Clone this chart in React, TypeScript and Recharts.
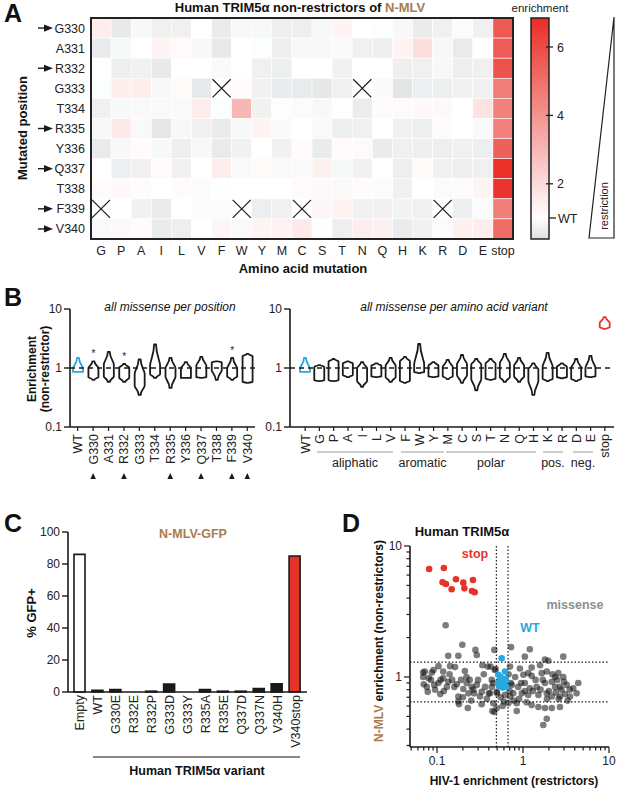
import React from "react";
import {
  ScatterChart,
  Scatter,
  BarChart,
  Bar,
  Cell,
  XAxis,
  YAxis,
  ReferenceLine,
} from "recharts";

const FONT = '"Liberation Sans", Arial, Helvetica, sans-serif';
const RED = "#e6332a";
const BLUE = "#29a8e0";
const BROWN = "#a87c4f";
const INK = "#1a1a1a";

// ---------- panel A: heatmap ----------
const aaColumns = ["G", "P", "A", "I", "L", "V", "F", "W", "Y", "M", "C", "S", "T", "N", "Q", "H", "K", "R", "D", "E", "stop"];
const positions = ["G330", "A331", "R332", "G333", "T334", "R335", "Y336", "Q337", "T338", "F339", "V340"];
const arrowPositions = ["G330", "R332", "R335", "Q337", "F339", "V340"];

// null = not measured (X)
const rowG330 = [1.5, 0.55, 0.85, 0.7, 0.7, 1.0, 0.6, 0.85, 0.85, 0.65, 0.65, 0.85, 1.3, 1.0, 0.95, 0.85, 0.6, 0.7, 1.15, 0.7, 5.6];
const rowA331 = [0.58, 0.85, 1.0, 1.3, 1.15, 0.85, 0.55, 1.0, 0.95, 0.65, 0.85, 0.85, 0.9, 0.7, 0.68, 1.3, 1.9, 0.85, 0.58, 1.0, 5.5];
const rowR332 = [1.0, 0.65, 0.72, 0.55, 1.0, 1.0, 0.9, 1.0, 0.7, 0.65, 1.0, 1.0, 0.72, 1.0, 1.0, 0.68, 0.7, 0.85, 0.65, 0.7, 5.8];
const rowG333 = [0.95, 1.45, 1.5, 0.85, 1.15, 0.55, null, 1.1, 0.72, 0.6, 0.58, 0.52, 0.7, null, 0.9, 0.48, 0.65, 0.65, 0.72, 0.72, 4.6];
const rowT334 = [0.7, 0.85, 0.88, 0.88, 0.88, 1.5, 0.95, 3.0, 0.72, 0.95, 1.15, 0.85, 1.0, 0.62, 1.15, 1.15, 1.2, 1.2, 1.0, 1.8, 4.5];
const rowR335 = [0.85, 1.6, 0.88, 0.52, 0.85, 0.72, 0.6, 0.85, 1.3, 0.9, 1.0, 0.88, 0.65, 0.7, 1.0, 0.72, 0.65, 1.12, 1.0, 0.88, 4.5];
const rowY336 = [0.58, 0.85, 1.12, 0.85, 0.65, 0.85, 0.58, 0.72, 1.0, 0.72, 1.12, 0.6, 1.12, 1.15, 0.6, 0.7, 0.65, 0.65, 0.7, 0.65, 5.4];
const rowQ337 = [1.0, 0.65, 0.7, 1.15, 0.72, 1.0, 1.5, 0.88, 1.15, 0.88, 0.88, 1.4, 0.85, 0.72, 1.0, 0.65, 1.12, 0.72, 0.65, 0.7, 6.7];
const rowT338 = [1.12, 1.2, 1.12, 1.0, 1.12, 0.92, 0.98, 1.0, 1.0, 1.0, 1.15, 1.2, 0.88, 1.12, 0.92, 0.7, 1.0, 0.92, 1.1, 1.3, 6.6];
const rowF339 = [null, 1.0, 0.72, 0.58, 1.0, 0.92, 0.92, null, 0.65, 0.7, null, 1.25, 1.35, 0.72, 0.72, 0.75, 0.7, null, 0.65, 0.92, 4.6];
const rowV340 = [0.88, 1.18, 1.12, 0.6, 0.65, 1.0, 1.25, 0.88, 1.3, 1.35, 1.6, 1.05, 0.65, 1.5, 1.4, 0.6, 0.72, 0.92, 1.4, 1.5, 5.1];
const heatRows = [rowG330, rowA331, rowR332, rowG333, rowT334, rowR335, rowY336, rowQ337, rowT338, rowF339, rowV340];

const heatCells = heatRows.flatMap((row, r) => row.map((v, c) => ({ x: c, y: r, v })));

const HEAT_W = 617;
const HEAT_H = 280;
const HEAT_M = { top: 18, right: 104, bottom: 21, left: 0 };
const HEAT_YAXIS = 91;
const CELL_W = (HEAT_W - HEAT_M.right - HEAT_M.left - HEAT_YAXIS) / aaColumns.length;
const CELL_H = (HEAT_H - HEAT_M.top - HEAT_M.bottom - 20) / positions.length;

const V_MAX = 6.81;
const V_MIN = 0.36;
const RED_RGB = [233, 45, 38];
const GRAY_RGB = [222, 223, 225];

function heatColor(v: number) {
  let t: number;
  let c: number[];
  if (v >= 1) {
    t = Math.min(1, (v - 1) / (V_MAX - 1));
    c = RED_RGB;
  } else {
    t = Math.min(1, (1 - v) / (1 - V_MIN));
    c = GRAY_RGB;
  }
  const m = (k: number) => Math.round(255 + (c[k] - 255) * t);
  return `rgb(${m(0)},${m(1)},${m(2)})`;
}

const HeatCell = (props: any) => {
  const { cx, cy, payload } = props;
  if (cx == null || cy == null) return null;
  const x0 = cx - CELL_W / 2;
  const y0 = cy - CELL_H / 2;
  if (payload.v == null) {
    return (
      <g>
        <rect x={x0} y={y0} width={CELL_W} height={CELL_H} fill="#fff" />
        <line x1={x0 + 1} y1={y0 + 1} x2={x0 + CELL_W - 1} y2={y0 + CELL_H - 1} stroke={INK} strokeWidth={1.2} />
        <line x1={x0 + CELL_W - 1} y1={y0 + 1} x2={x0 + 1} y2={y0 + CELL_H - 1} stroke={INK} strokeWidth={1.2} />
      </g>
    );
  }
  return <rect x={x0} y={y0} width={CELL_W} height={CELL_H} fill={heatColor(payload.v)} stroke="#fff" strokeWidth={0.6} />;
};

const HeatXTick = ({ x, y, payload }: any) => (
  <text x={x} y={y + 16} textAnchor="middle" fontSize={12.5} fill="#222" fontFamily={FONT}>
    {aaColumns[payload.value]}
  </text>
);

const HeatYTick = ({ x, y, payload }: any) => {
  const label = positions[payload.value];
  const arrow = arrowPositions.includes(label);
  return (
    <g>
      {arrow && (
        <g fill={INK}>
          <rect x={x - 53} y={y - 0.7} width={7} height={1.4} />
          <polygon points={`${x - 47},${y - 3.6} ${x - 38},${y} ${x - 47},${y + 3.6}`} />
        </g>
      )}
      <text x={x - 6} y={y} dy={4.5} textAnchor="end" fontSize={12.5} fill="#222" fontFamily={FONT}>
        {label}
      </text>
    </g>
  );
};

// ---------- panel B: violins ----------
const posLabels = ["WT", "G330", "A331", "R332", "G333", "T334", "R335", "Y336", "Q337", "T338", "F339", "V340"];
const posMin = [0.86, 0.63, 0.58, 0.58, 0.35, 0.68, 0.46, 0.68, 0.68, 0.63, 0.63, 0.56];
const posLo = [0.86, 0.7, 0.72, 0.68, 0.5, 0.78, 0.72, 0.68, 0.7, 0.92, 0.72, 0.58];
const posHi = [0.97, 1.0, 1.15, 1.02, 0.8, 1.1, 1.0, 1.0, 1.1, 1.25, 0.98, 1.6];
const posMax = [1.48, 1.3, 1.87, 1.17, 1.4, 2.5, 1.48, 1.26, 1.54, 1.3, 1.48, 1.73];
const posSig = ["", "*", "", "*", "", "", "", "", "", "", "*", ""];

const aaLabels = ["WT", "G", "P", "A", "I", "L", "V", "F", "W", "Y", "M", "C", "S", "T", "N", "Q", "H", "K", "R", "D", "E", "stop"];
const aaMin = [0.86, 0.6, 0.6, 0.7, 0.48, 0.7, 0.58, 0.56, 0.82, 0.7, 0.65, 0.56, 0.42, 0.63, 0.58, 0.58, 0.35, 0.6, 0.67, 0.6, 0.7, 4.6];
const aaLo = [0.86, 0.62, 0.62, 0.75, 0.6, 0.72, 0.7, 0.6, 0.85, 0.72, 0.72, 0.75, 0.65, 0.66, 0.7, 0.72, 0.6, 0.65, 0.7, 0.65, 0.72, 4.9];
const aaHi = [0.97, 1.05, 1.3, 1.2, 1.0, 1.1, 1.1, 1.3, 1.15, 1.1, 1.05, 1.15, 1.15, 1.2, 1.2, 1.1, 0.95, 1.05, 1.05, 1.0, 1.0, 5.8];
const aaMax = [1.48, 1.12, 1.42, 1.3, 1.26, 1.2, 1.48, 1.54, 2.55, 1.26, 1.37, 1.66, 1.42, 1.42, 1.73, 1.48, 1.2, 1.8, 1.2, 1.42, 1.6, 7.3];
const aaSig = ["", "", "", "", "", "", "", "", "", "", "", "", "", "", "", "", "", "", "", "", "", "****"];

const posData = posLabels.map((label, i) => ({
  label, range: [posMin[i], posMax[i]], lo: posLo[i], hi: posHi[i], sig: posSig[i],
}));
const aaData = aaLabels.map((label, i) => ({
  label, range: [aaMin[i], aaMax[i]], lo: aaLo[i], hi: aaHi[i], sig: aaSig[i],
}));

const ViolinShape = (props: any) => {
  const { x, y, width, height, payload } = props;
  if (!payload || x == null) return null;
  const [vMin, vMax] = payload.range;
  const top = Math.min(y, y + height);
  const bot = Math.max(y, y + height);
  const span = Math.log10(vMax) - Math.log10(vMin);
  const ly = (v: number) => top + ((bot - top) * (Math.log10(vMax) - Math.log10(v))) / span;
  const cx = x + width / 2;
  const w = width / 2;
  const n = 1;
  const yT = top;
  const yH = ly(payload.hi);
  const yL = ly(payload.lo);
  const yB = bot;
  const color = payload.label === "WT" ? BLUE : payload.label === "stop" ? RED : INK;
  const d = [
    `M ${cx - n} ${yT} L ${cx + n} ${yT}`,
    `C ${cx + n} ${(yT + yH) / 2} ${cx + w} ${yH - (yH - yT) * 0.25} ${cx + w} ${yH}`,
    `L ${cx + w} ${yL}`,
    `C ${cx + w} ${yL + (yB - yL) * 0.25} ${cx + n} ${(yL + yB) / 2} ${cx + n} ${yB}`,
    `L ${cx - n} ${yB}`,
    `C ${cx - n} ${(yL + yB) / 2} ${cx - w} ${yL + (yB - yL) * 0.25} ${cx - w} ${yL}`,
    `L ${cx - w} ${yH}`,
    `C ${cx - w} ${yH - (yH - yT) * 0.25} ${cx - n} ${(yT + yH) / 2} ${cx - n} ${yT} Z`,
  ].join(" ");
  return (
    <g>
      <path d={d} fill="#fff" stroke={color} strokeWidth={1.8} strokeLinejoin="round" />
      {payload.sig && (
        <text x={cx} y={yT - 4} textAnchor="middle" fontSize={10} fill="#222" fontFamily={FONT}>
          {payload.sig}
        </text>
      )}
    </g>
  );
};

const RotTick = ({ x, y, payload, fontSize = 12.5, tick = 4, arrows = false }: any) => {
  const label = String(payload.value);
  const arrow = arrows && arrowPositions.includes(label);
  return (
    <g>
      {tick > 0 && <line x1={x} x2={x} y1={y} y2={y + tick} stroke={INK} strokeWidth={1.2} />}
      <text
        transform={`translate(${x + fontSize * 0.36},${y + tick + 3}) rotate(-90)`}
        textAnchor="end"
        fontSize={fontSize}
        fill="#222"
        fontFamily={FONT}
      >
        {label}
      </text>
      {arrow && <polygon points={`${x},${y + 46} ${x + 2.8},${y + 52} ${x - 2.8},${y + 52}`} fill={INK} />}
    </g>
  );
};

const logFmt = (v: number) => (v === 0.1 ? "0.1" : String(v));

// ---------- panel C: bars ----------
const gfpLabels = ["Empty", "WT", "G330E", "R332E", "R332P", "G333D", "G333Y", "R335A", "R335E", "Q337D", "Q337N", "V340H", "V340stop"];
const gfpValues = [86, 1, 1.5, 0, 0.5, 5, 0, 1.5, 0.5, 0.5, 2.2, 5.2, 85];
const gfpData = gfpLabels.map((label, i) => ({ label, value: gfpValues[i] }));

// ---------- panel D: scatter ----------
const missenseHiv = [
  0.126, 0.197, 0.28, 0.135, 0.177, 0.29, 0.464, 0.725, 0.104, 0.091, 0.142, 0.162, 0.337, 0.389, 0.47,
  0.069, 0.087, 0.118, 0.211, 0.069, 0.085, 0.076, 0.093, 0.104, 0.118, 0.13, 0.135, 0.159, 0.078, 0.109,
  0.177, 0.177, 0.202, 0.221, 0.253, 0.29, 0.232, 0.264, 0.331, 0.362, 0.228, 0.316, 0.414, 0.452, 0.495,
  0.464, 0.433, 0.433, 0.495, 0.618, 0.647, 0.706, 0.44, 1.2, 1.05, 1.8, 1.97, 2.94, 0.706, 0.92,
  1.26, 1.58, 0.81, 1.01, 1.26, 1.65, 1.89, 2.36, 2.57, 2.94, 1.05, 0.88, 1.44, 1.8, 2.16,
  2.36, 2.69, 3.22, 3.84, 4.39, 4.2, 0.77, 0.97, 1.15, 1.51, 1.89, 2.16, 2.69, 3.08, 3.52,
  0.675, 0.845, 1.1, 1.26, 1.51, 1.8, 2.16, 2.69, 0.845, 1.89, 1.72, 1.15, 0.74, 1.3, 1.6,
  2.0, 2.4, 2.8, 3.0, 2.5, 2.2, 1.7, 1.4, 1.2, 2.6, 3.3, 3.5, 1.9, 0.95, 0.9,
  0.78, 1.05, 0.072, 0.07, 0.08, 0.095, 0.11, 0.12, 0.15, 0.17, 0.19, 0.2, 0.24, 0.27, 0.3,
  0.35, 0.4, 0.38, 0.42, 0.45, 0.22, 0.14, 0.25, 0.18, 0.33, 0.5, 0.55, 0.6, 0.7, 0.48,
  0.68, 0.72, 0.58,
];
const missenseNmlv = [
  2.48, 1.76, 1.61, 1.45, 1.45, 1.47, 1.61, 1.69, 1.21, 1.13, 1.21, 1.19, 1.23, 1.2, 1.13,
  1.08, 1.08, 1.1, 1.11, 1.0, 0.95, 0.84, 0.87, 0.9, 0.98, 0.84, 0.92, 0.84, 0.77, 0.74,
  0.71, 0.65, 0.81, 0.9, 0.84, 0.87, 0.75, 0.8, 0.77, 0.84, 0.58, 0.71, 0.75, 0.63, 0.58,
  0.54, 0.95, 0.84, 0.77, 0.73, 0.84, 0.71, 0.55, 1.63, 1.43, 1.36, 1.33, 1.43, 1.2, 1.16,
  1.18, 1.23, 1.0, 1.04, 1.02, 1.07, 1.1, 1.0, 1.07, 1.0, 0.9, 0.84, 0.84, 0.9, 0.92,
  0.84, 0.84, 0.87, 0.82, 0.9, 0.75, 0.75, 0.75, 0.73, 0.73, 0.75, 0.71, 0.71, 0.74, 0.71,
  0.63, 0.63, 0.64, 0.61, 0.59, 0.58, 0.58, 0.59, 0.55, 0.48, 0.43, 1.07, 0.87, 0.78, 0.8,
  0.78, 0.76, 0.8, 0.92, 0.95, 1.05, 0.95, 0.95, 0.82, 0.68, 0.66, 0.8, 0.68, 0.9, 0.68,
  0.66, 0.78, 1.1, 0.88, 0.98, 0.8, 0.95, 0.78, 0.95, 0.88, 0.95, 0.7, 0.95, 0.75, 0.95,
  1.05, 0.75, 0.68, 1.2, 0.9, 1.0, 1.05, 0.66, 0.62, 0.62, 0.75, 0.7, 0.65, 0.78, 1.15,
  1.05, 0.9, 0.6,
];
const wtHiv = [0.565, 0.618, 0.516, 0.54, 0.565, 0.6, 0.53, 0.58, 0.64, 0.516, 0.63, 0.55, 0.6];
const wtNmlv = [1.39, 1.1, 1.04, 0.95, 0.9, 0.87, 0.85, 0.83, 0.84, 0.9, 0.97, 1.0, 0.93];
const stopHiv = [0.081, 0.12, 0.116, 0.127, 0.148, 0.166, 0.202, 0.208, 0.262, 0.255, 0.274];
const stopNmlv = [6.67, 6.8, 5.28, 5.13, 4.67, 5.57, 5.25, 4.75, 5.5, 4.53, 4.43];

const missensePts = missenseHiv.map((x, i) => ({ x, y: missenseNmlv[i] }));
const wtPts = wtHiv.map((x, i) => ({ x, y: wtNmlv[i] }));
const stopPts = stopHiv.map((x, i) => ({ x, y: stopNmlv[i] }));

const hivCutoffs = [0.49, 0.67];
const nmlvCutoffs = [1.3, 0.645];

const xLogTicks = [0.05, 0.06, 0.07, 0.08, 0.09, 0.1, 0.2, 0.3, 0.4, 0.5, 0.6, 0.7, 0.8, 0.9, 1, 2, 3, 4, 5, 6, 7, 8, 9, 10];
const yLogTicks = [0.3, 0.4, 0.5, 0.6, 0.7, 0.8, 0.9, 1, 2, 3, 4, 5, 6, 7, 8, 9, 10];
const majors = [0.1, 1, 10];

const LogXTick = ({ x, y, payload }: any) => {
  const major = majors.includes(payload.value);
  return (
    <g>
      <line x1={x} x2={x} y1={y} y2={y + (major ? 6 : 3.5)} stroke={INK} strokeWidth={1.2} />
      {major && (
        <text x={x} y={y + 18} textAnchor="middle" fontSize={12} fill="#222" fontFamily={FONT}>
          {logFmt(payload.value)}
        </text>
      )}
    </g>
  );
};

const LogYTick = ({ x, y, payload }: any) => {
  const major = majors.includes(payload.value);
  return (
    <g>
      <line x1={x} x2={x - (major ? 6 : 3.5)} y1={y} y2={y} stroke={INK} strokeWidth={1.2} />
      {major && (
        <text x={x - 8} y={y} dy={4} textAnchor="end" fontSize={12} fill="#222" fontFamily={FONT}>
          {logFmt(payload.value)}
        </text>
      )}
    </g>
  );
};

const dot = (fill: string, opacity: number, r: number) => (p: any) =>
  p.cx == null ? null : <circle cx={p.cx} cy={p.cy} r={r} fill={fill} fillOpacity={opacity} />;

const axisLine = { stroke: INK, strokeWidth: 1.6 };
const tickText = { fontSize: 12, fill: "#222", fontFamily: FONT };

// colorbar mapping
const CB_X = 531;
const CB_TOP = 18;
const CB_BOT = 239;
const cbY = (v: number) => 218 - (v - 1) * 34.2;

export default function App() {
  const wtOffset = (cbY(1) - CB_TOP) / (CB_BOT - CB_TOP);
  return (
    <div style={{ position: "absolute", left: 0, top: 0, width: 617, height: 790, background: "#fff", fontFamily: FONT }}>
      {/* A */}
      <div style={{ position: "absolute", left: 0, top: 0 }}>
        <ScatterChart width={HEAT_W} height={HEAT_H} margin={HEAT_M}>
          <XAxis
            dataKey="x"
            type="number"
            domain={[-0.5, aaColumns.length - 0.5]}
            ticks={aaColumns.map((_, i) => i)}
            interval={0}
            tick={<HeatXTick />}
            tickLine={false}
            tickSize={0}
            tickMargin={0}
            axisLine={false}
            height={20}
          />
          <YAxis
            dataKey="y"
            type="number"
            reversed
            domain={[-0.5, positions.length - 0.5]}
            ticks={positions.map((_, i) => i)}
            interval={0}
            tick={<HeatYTick />}
            tickLine={false}
            tickSize={0}
            tickMargin={0}
            axisLine={false}
            width={HEAT_YAXIS}
          />
          <Scatter data={heatCells} shape={HeatCell} isAnimationActive={false} />
        </ScatterChart>
      </div>

      {/* B left */}
      <div style={{ position: "absolute", left: 0, top: 300 }}>
        <BarChart width={262} height={190} data={posData} margin={{ top: 9, right: 7, bottom: 0, left: 0 }} barSize={10}>
          <XAxis
            dataKey="label"
            interval={0}
            tick={<RotTick arrows />}
            tickLine={false}
            tickSize={0}
            tickMargin={0}
            axisLine={axisLine}
            height={63}
          />
          <YAxis
            scale="log"
            type="number"
            domain={[0.1, 10]}
            allowDataOverflow
            ticks={[0.1, 1, 10]}
            tickFormatter={logFmt}
            tick={tickText}
            tickSize={6}
            tickLine={{ stroke: INK, strokeWidth: 1.4 }}
            axisLine={axisLine}
            width={70}
          />
          <ReferenceLine y={1} stroke={INK} strokeWidth={1.3} strokeDasharray="5 4" />
          <Bar dataKey="range" shape={ViolinShape} isAnimationActive={false} />
        </BarChart>
      </div>

      {/* B right */}
      <div style={{ position: "absolute", left: 250, top: 300 }}>
        <BarChart width={367} height={190} data={aaData} margin={{ top: 9, right: 3, bottom: 0, left: 0 }} barSize={10}>
          <XAxis
            dataKey="label"
            interval={0}
            padding={{ left: 8, right: 2 }}
            tick={<RotTick />}
            tickLine={false}
            tickSize={0}
            tickMargin={0}
            axisLine={axisLine}
            height={63}
          />
          <YAxis
            scale="log"
            type="number"
            domain={[0.1, 10]}
            allowDataOverflow
            ticks={[0.1, 1, 10]}
            tickFormatter={logFmt}
            tick={tickText}
            tickSize={6}
            tickLine={{ stroke: INK, strokeWidth: 1.4 }}
            axisLine={axisLine}
            width={40}
          />
          <ReferenceLine y={1} stroke={INK} strokeWidth={1.3} strokeDasharray="5 4" />
          <Bar dataKey="range" shape={ViolinShape} isAnimationActive={false} />
        </BarChart>
      </div>

      {/* C */}
      <div style={{ position: "absolute", left: 0, top: 520 }}>
        <BarChart width={317} height={270} data={gfpData} margin={{ top: 12, right: 10, bottom: 36, left: 0 }} barSize={11}>
          <XAxis
            dataKey="label"
            interval={0}
            padding={{ left: 3, right: 3 }}
            tick={<RotTick tick={0} />}
            tickLine={false}
            tickSize={0}
            tickMargin={0}
            axisLine={axisLine}
            height={62}
          />
          <YAxis
            type="number"
            domain={[0, 100]}
            ticks={[0, 20, 40, 60, 80, 100]}
            tick={tickText}
            tickSize={6}
            tickLine={{ stroke: INK, strokeWidth: 1.4 }}
            axisLine={axisLine}
            width={68}
          />
          <Bar dataKey="value" isAnimationActive={false} stroke={INK} strokeWidth={1.6}>
            {gfpData.map((d, i) => (
              <Cell
                key={`c-${i}`}
                fill={d.label === "Empty" ? "#fff" : d.label === "V340stop" ? RED : INK}
              />
            ))}
          </Bar>
        </BarChart>
      </div>

      {/* D */}
      <div style={{ position: "absolute", left: 300, top: 520 }}>
        <ScatterChart width={317} height={270} margin={{ top: 26, right: 8, bottom: 23, left: 0 }}>
          <XAxis
            dataKey="x"
            type="number"
            scale="log"
            domain={[0.0485, 10]}
            allowDataOverflow
            ticks={xLogTicks}
            interval={0}
            tick={<LogXTick />}
            tickLine={false}
            tickSize={0}
            tickMargin={0}
            axisLine={axisLine}
            height={20}
          />
          <YAxis
            dataKey="y"
            type="number"
            scale="log"
            domain={[0.292, 10]}
            allowDataOverflow
            ticks={yLogTicks}
            interval={0}
            tick={<LogYTick />}
            tickLine={false}
            tickSize={0}
            tickMargin={0}
            axisLine={axisLine}
            width={110}
          />
          {hivCutoffs.map((v) => (
            <ReferenceLine key={`hx-${v}`} x={v} stroke={INK} strokeWidth={1.2} strokeDasharray="1.5 2" />
          ))}
          {nmlvCutoffs.map((v) => (
            <ReferenceLine key={`ny-${v}`} y={v} stroke={INK} strokeWidth={1.2} strokeDasharray="1.5 2" />
          ))}
          <Scatter data={missensePts} shape={dot("#111", 0.55, 3.3)} isAnimationActive={false} />
          <Scatter data={wtPts} shape={dot(BLUE, 1, 3.3)} isAnimationActive={false} />
          <Scatter data={stopPts} shape={dot(RED, 1, 3.3)} isAnimationActive={false} />
        </ScatterChart>
      </div>

      {/* annotations */}
      <svg width={617} height={790} style={{ position: "absolute", left: 0, top: 0, pointerEvents: "none" }} fontFamily={FONT}>
        <defs>
          <linearGradient id="cbar" x1="0" y1="0" x2="0" y2="1">
            <stop offset="0" stopColor={`rgb(${RED_RGB.join(",")})`} />
            <stop offset={wtOffset} stopColor="#fff" />
            <stop offset="1" stopColor={`rgb(${GRAY_RGB.join(",")})`} />
          </linearGradient>
        </defs>

        {/* panel letters */}
        <text x={4} y={22} fontSize={25} fontWeight="bold" fill="#111">A</text>
        <text x={4} y={306} fontSize={25} fontWeight="bold" fill="#111">B</text>
        <text x={4} y={532} fontSize={25} fontWeight="bold" fill="#111">C</text>
        <text x={342} y={532} fontSize={25} fontWeight="bold" fill="#111">D</text>

        {/* A */}
        <text x={300} y={12} textAnchor="middle" fontSize={13} fontWeight="bold" fill="#111">
          Human TRIM5α non-restrictors of <tspan fill={BROWN}>N-MLV</tspan>
        </text>
        <rect x={HEAT_YAXIS} y={HEAT_M.top} width={CELL_W * aaColumns.length} height={CELL_H * positions.length} fill="none" stroke="#222" strokeWidth={2} />
        <text x={303} y={273} textAnchor="middle" fontSize={13} fontWeight="bold" fill="#111">Amino acid mutation</text>
        <text transform="translate(27,128) rotate(-90)" textAnchor="middle" fontSize={13} fontWeight="bold" fill="#111">Mutated position</text>
        <text x={540} y={12} textAnchor="middle" fontSize={11.5} fill="#222">enrichment</text>
        <rect x={CB_X} y={CB_TOP} width={18} height={CB_BOT - CB_TOP} fill="url(#cbar)" stroke="#222" strokeWidth={1.5} />
        {[6, 4, 2].map((v) => (
          <g key={`cb-${v}`}>
            <line x1={546} x2={553} y1={cbY(v)} y2={cbY(v)} stroke="#222" strokeWidth={1.3} />
            <text x={557} y={cbY(v) + 4.5} fontSize={12.5} fill="#222">{v}</text>
          </g>
        ))}
        <line x1={549} x2={556} y1={cbY(1)} y2={cbY(1)} stroke="#222" strokeWidth={1.3} />
        <text x={558} y={cbY(1) + 4.5} fontSize={12.5} fill="#222">WT</text>
        <polygon points="589,238 614,238 614,17" fill="none" stroke="#222" strokeWidth={1.2} />
        <text transform="translate(608,206) rotate(-90)" textAnchor="middle" fontSize={11} fill="#222">restriction</text>

        {/* B */}
        <text x={170} y={311} textAnchor="middle" fontSize={12} fontStyle="italic" fill="#111">all missense per position</text>
        <text x={454} y={311} textAnchor="middle" fontSize={12} fontStyle="italic" fill="#111">all missense per amino acid variant</text>
        <text transform="translate(36,369) rotate(-90)" textAnchor="middle" fontSize={12} fontWeight="bold" fill="#111">Enrichment</text>
        <text transform="translate(49,369) rotate(-90)" textAnchor="middle" fontSize={12} fontWeight="bold" fill="#111">(non-restrictor)</text>
        {[
          ["aliphatic", 317, 393],
          ["aromatic", 401, 444],
          ["polar", 446, 536],
          ["pos.", 543, 563],
          ["neg.", 573, 593],
        ].map(([name, a, b]) => (
          <g key={`grp-${name}`}>
            <line x1={a as number} x2={b as number} y1={452} y2={452} stroke="#9a9a9a" strokeWidth={1} />
            <text x={((a as number) + (b as number)) / 2} y={467} textAnchor="middle" fontSize={12.5} fill="#222">{name}</text>
          </g>
        ))}

        {/* C */}
        <text x={193} y={538} textAnchor="middle" fontSize={12.5} fontWeight="bold" fill={BROWN}>N-MLV-GFP</text>
        <text transform="translate(36,613) rotate(-90)" textAnchor="middle" fontSize={13} fontWeight="bold" fill="#111">% GFP+</text>
        <line x1={93} x2={300} y1={757} y2={757} stroke="#111" strokeWidth={1.2} />
        <text x={197} y={775} textAnchor="middle" fontSize={12.5} fontWeight="bold" fill="#111">Human TRIM5α variant</text>

        {/* D */}
        <text x={462} y={536} textAnchor="middle" fontSize={13} fontWeight="bold" fill="#111">Human TRIM5α</text>
        <text x={475} y={558} textAnchor="middle" fontSize={12.5} fontWeight="bold" fill={RED}>stop</text>
        <text x={575} y={609} textAnchor="middle" fontSize={12.5} fontWeight="bold" fill="#8f8f8f">missense</text>
        <text x={530} y={632} textAnchor="middle" fontSize={12.5} fontWeight="bold" fill={BLUE}>WT</text>
        <text x={514} y={785} textAnchor="middle" fontSize={12} fontWeight="bold" fill="#111">HIV-1 enrichment (restrictors)</text>
        <text transform="translate(383,641) rotate(-90)" textAnchor="middle" fontSize={12} fontWeight="bold" fill="#111">
          <tspan fill={BROWN}>N-MLV</tspan> enrichment (non-restrictors)
        </text>
      </svg>
    </div>
  );
}
